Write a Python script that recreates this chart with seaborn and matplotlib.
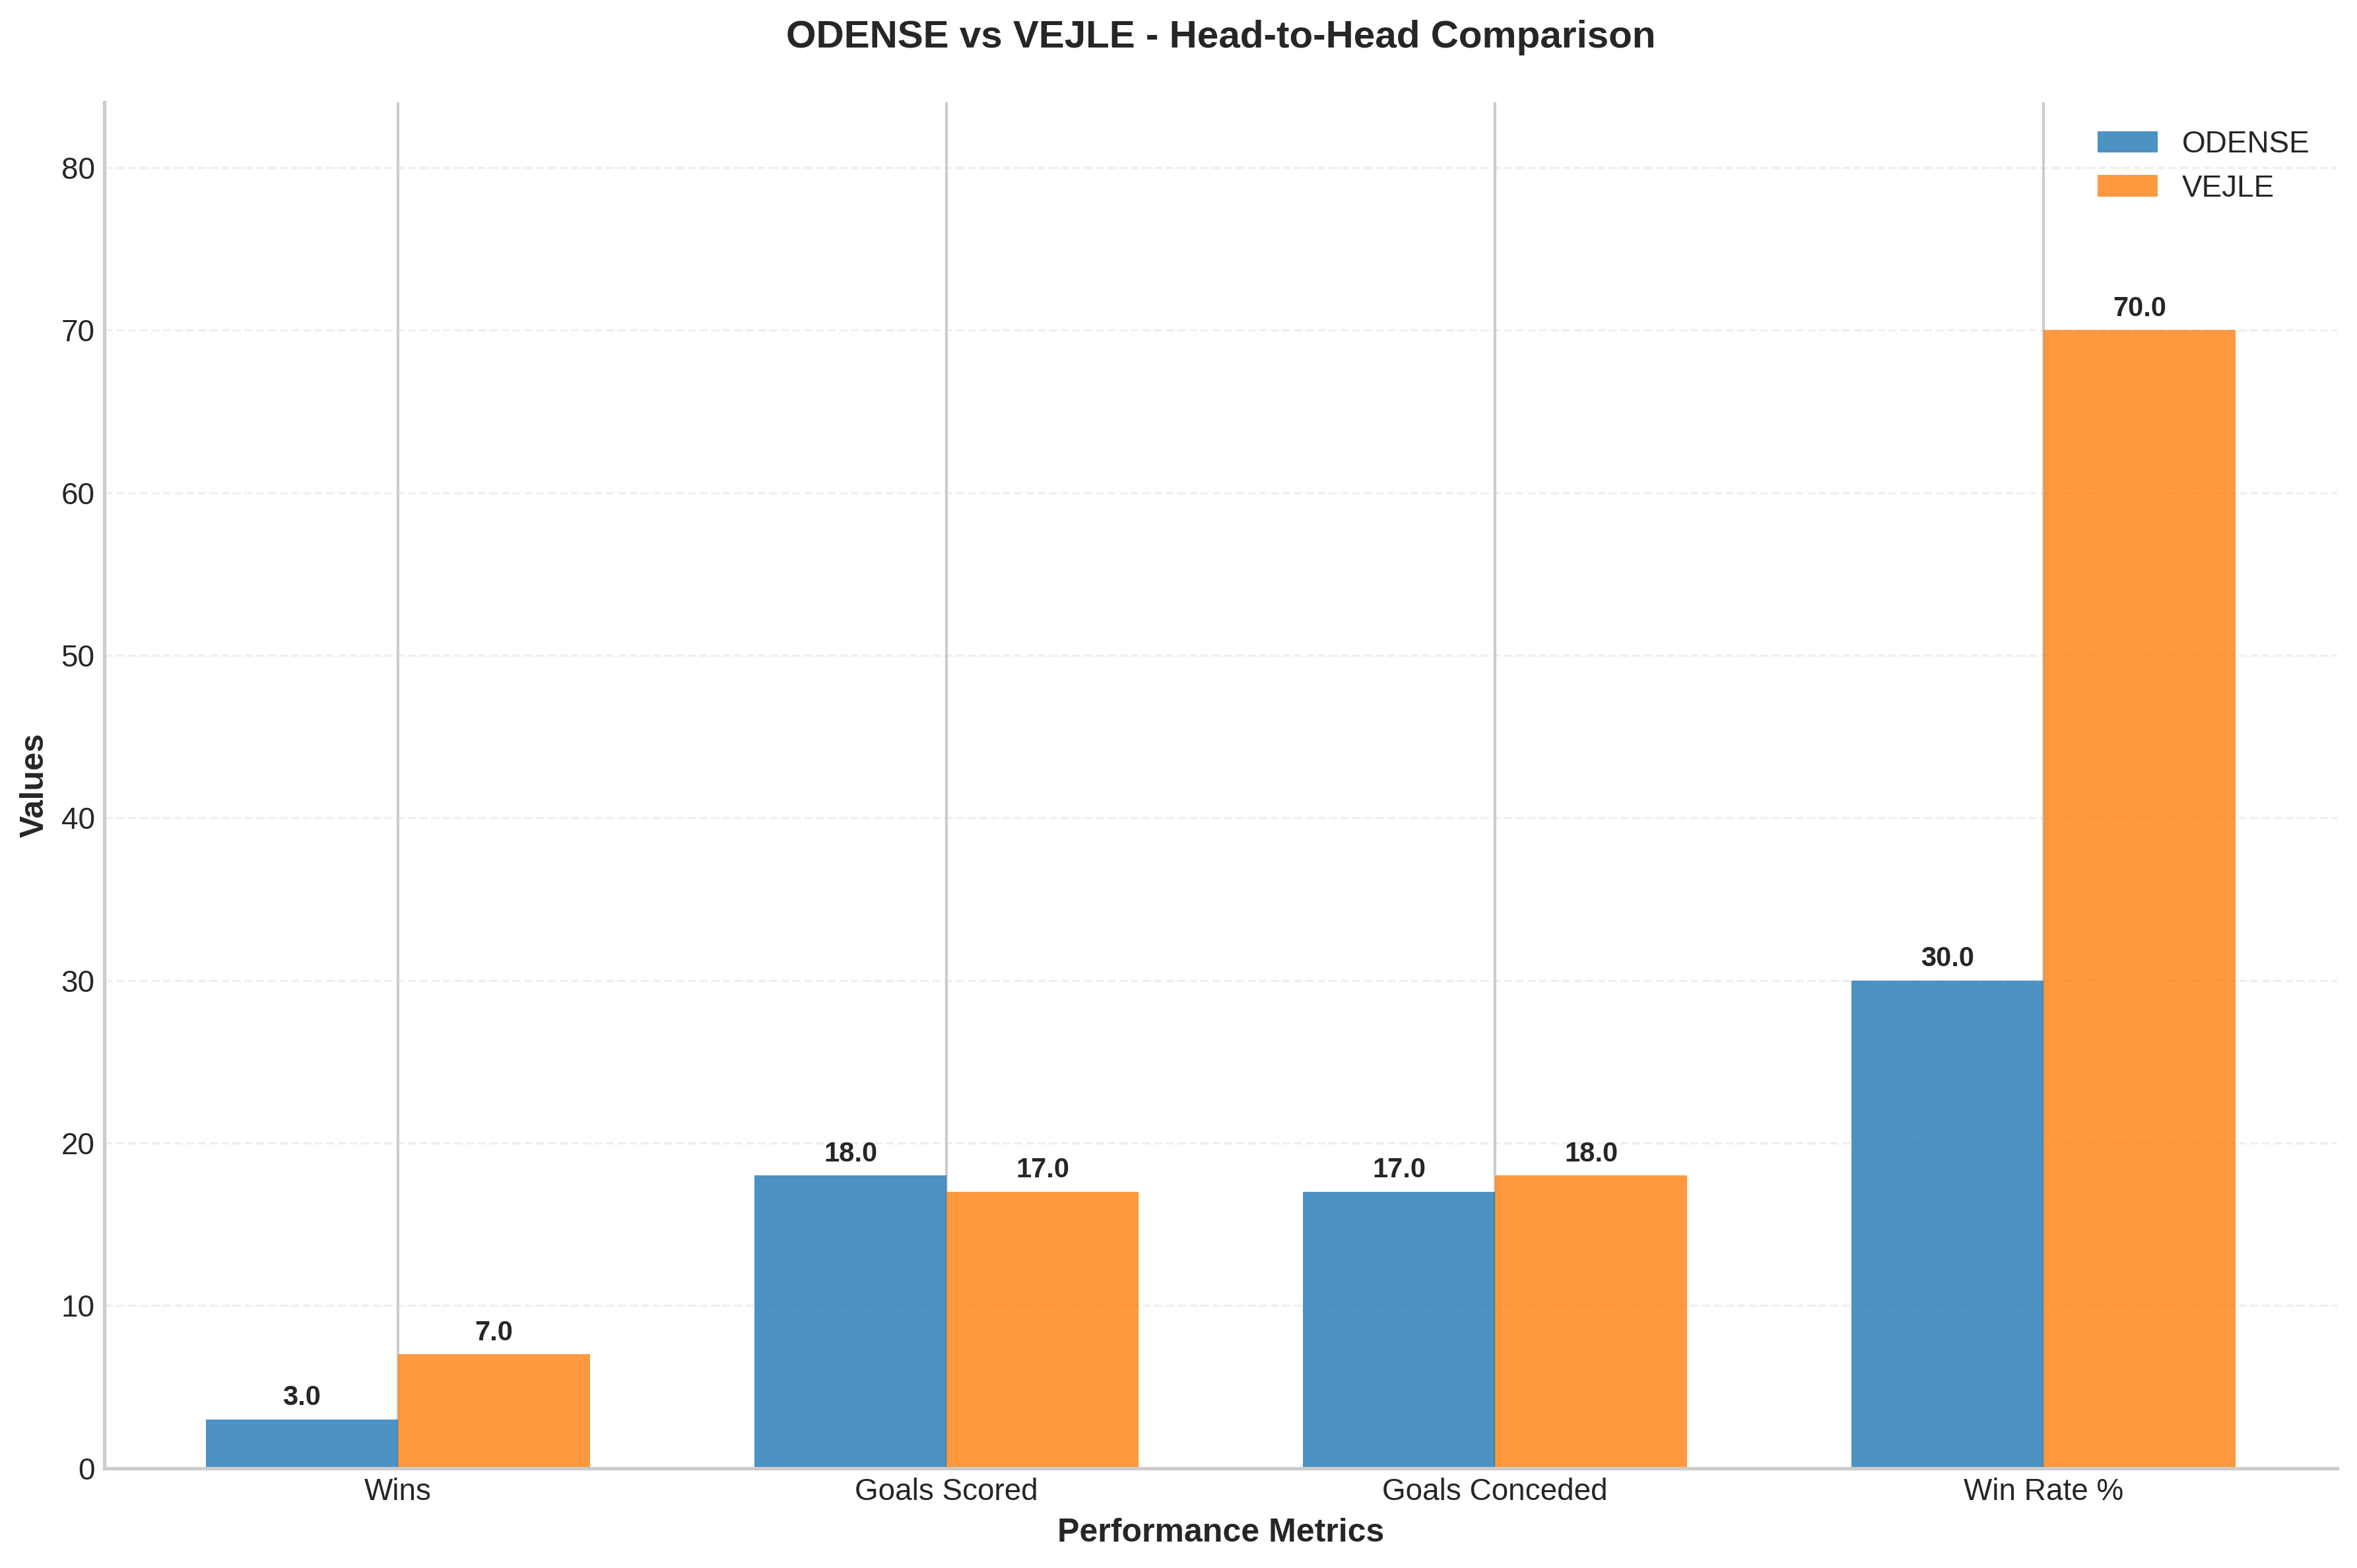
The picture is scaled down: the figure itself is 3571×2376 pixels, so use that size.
import pandas as pd
import seaborn as sns
import matplotlib.pyplot as plt

# chart data
metrics = ['Wins', 'Goals Scored', 'Goals Conceded', 'Win Rate %']
teams = ['ODENSE', 'VEJLE']
odense_values = [3, 18, 17, 30]
vejle_values = [7, 17, 18, 70]
team_colors = ['#1f77b4', '#ff7f0e']

df = pd.DataFrame({
    'metric': metrics * 2,
    'team': [teams[0]] * len(metrics) + [teams[1]] * len(metrics),
    'value': odense_values + vejle_values,
})

plt.style.use('seaborn-v0_8-whitegrid')
plt.rcParams['font.family'] = ['Liberation Sans', 'DejaVu Sans']

fig, ax = plt.subplots(figsize=(12, 8))
sns.barplot(
    data=df, x='metric', y='value', hue='team',
    palette=team_colors, saturation=1, width=0.7, gap=0, alpha=0.8,
    errorbar=None, ax=ax
)

for container in ax.containers:
    for bar in container:
        h = bar.get_height()
        ax.annotate(f'{h:.1f}', (bar.get_x() + bar.get_width() / 2, h),
                    xytext=(0, 3), textcoords='offset points',
                    ha='center', va='bottom', fontsize=10, fontweight='bold')

max_val = max(odense_values + vejle_values)
ax.set_ylim(0, max_val * 1.2)
ax.set_xlim(-0.535, len(metrics) - 1 + 0.535)

ax.set_title('ODENSE vs VEJLE - Head-to-Head Comparison',
             fontsize=14, fontweight='bold', pad=20)
ax.set_xlabel('Performance Metrics', fontsize=12, fontweight='bold')
ax.set_ylabel('Values', fontsize=12, fontweight='bold')
ax.tick_params(axis='both', labelsize=11)

ax.grid(True, axis='x', color='#cccccc', linestyle='-', linewidth=1)
ax.grid(True, axis='y', alpha=0.3, linestyle='--')
ax.set_axisbelow(True)
sns.despine(ax=ax)
for side in ['left', 'bottom']:
    ax.spines[side].set_color('#cccccc')
    ax.spines[side].set_linewidth(1.25)

ax.legend(loc='upper right', fontsize=11, frameon=False, title=None)

plt.tight_layout()
plt.savefig('out.png', dpi=300, bbox_inches='tight')
plt.close()
